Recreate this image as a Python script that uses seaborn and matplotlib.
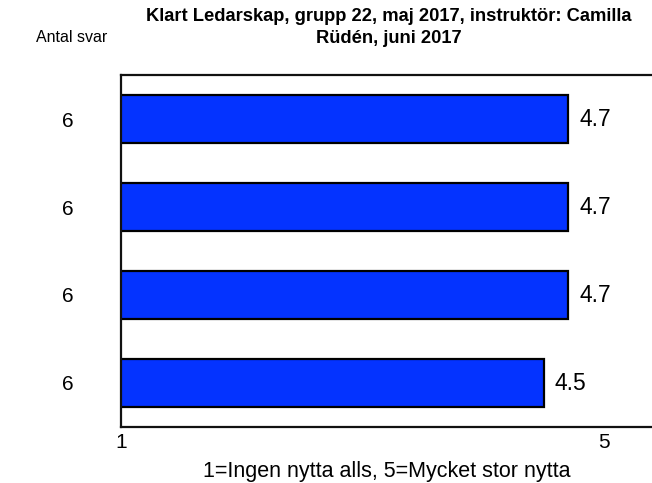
import matplotlib
matplotlib.use("Agg")
import matplotlib.pyplot as plt
import seaborn as sns
import pandas as pd

categories = ["Fråga 1", "Fråga 2", "Fråga 3", "Fråga 4"]
values = [4.7, 4.7, 4.7, 4.5]
counts = ["6", "6", "6", "6"]
x_ticks = [1, 5]
x_ticklabels = ["1", "5"]

title = "Klart Ledarskap, grupp 22, maj 2017, instruktör: Camilla\nRüdén, juni 2017"
xlabel = "1=Ingen nytta alls, 5=Mycket stor nytta"

sns.set_theme(style="white")
plt.rcParams["font.family"] = ["Liberation Sans", "DejaVu Sans"]
plt.rcParams["text.color"] = "black"
plt.rcParams["xtick.color"] = "black"
plt.rcParams["ytick.color"] = "black"
plt.rcParams["axes.labelcolor"] = "black"

df = pd.DataFrame({"cat": categories, "val": values})

W, H = 652, 483
fig = plt.figure(figsize=(W / 100, H / 100), dpi=100)
left, right, top, bottom = 121, 652, 75, 427
ax = fig.add_axes([left / W, (H - bottom) / H, (right - left) / W, (bottom - top) / H])

sns.barplot(data=df, y="cat", x="val", orient="h", color="#0433FF",
            saturation=1, width=0.545, edgecolor="black", linewidth=1.6, ax=ax)

px_per_unit = (568 - 121) / 3.7
ax.set_xlim(1, 1 + (right - left) / px_per_unit)
ax.set_ylim(3.5, -0.5)

ax.set_xticks(x_ticks)
ax.set_xticklabels(x_ticklabels, fontsize=15)
ax.set_yticks(range(len(categories)))
ax.set_yticklabels(counts, fontsize=15)
ax.tick_params(axis="y", length=0, pad=34, colors="black")
ax.tick_params(axis="x", length=0, pad=4, colors="black")

for i, v in enumerate(values):
    ax.annotate(f"{v:.1f}", xy=(v, i), xytext=(8, 0), textcoords="offset points",
                va="center", ha="left", fontsize=16.5, color="black")

for s in ["top", "bottom", "left"]:
    ax.spines[s].set_visible(True)
    ax.spines[s].set_color("#111111")
    ax.spines[s].set_linewidth(1.6)
ax.spines["right"].set_visible(False)

ax.set_ylabel("")
ax.set_xlabel(xlabel, fontsize=15.5, labelpad=7, color="black")

fig.text(389 / W, 1 - 8 / H, title, ha="center", va="top", fontsize=13.2,
         fontweight="bold", linespacing=1.4, color="black")
fig.text(72 / W, 1 - 37 / H, "Antal svar", ha="center", va="center", fontsize=11.5,
         color="black")

fig.savefig("out.png", dpi=100)
